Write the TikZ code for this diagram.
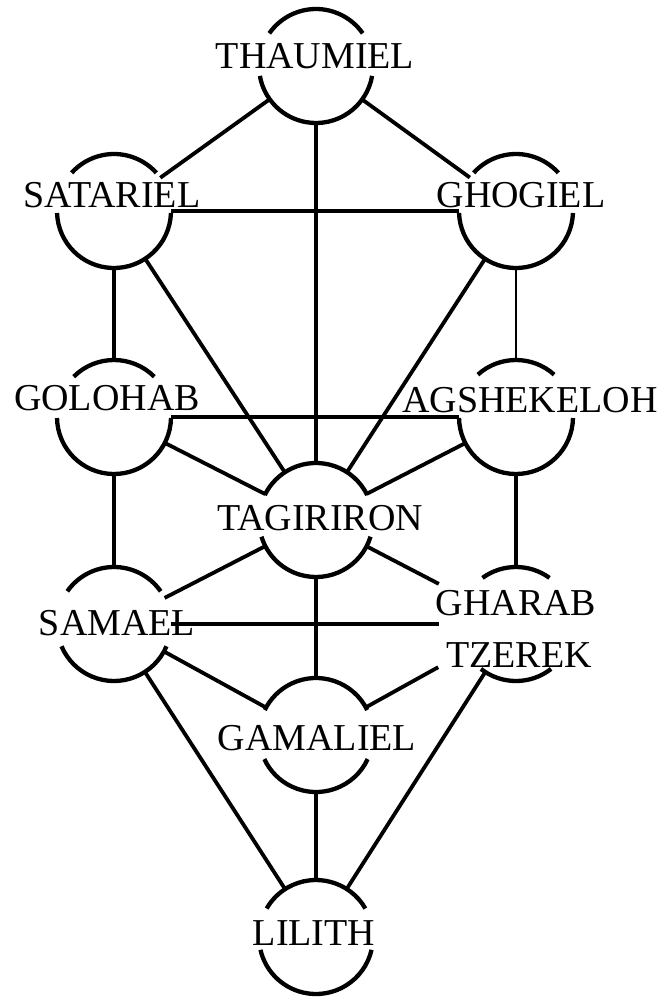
\documentclass[tikz,border=0pt]{standalone}
\usepackage{fontspec}
\setmainfont{Liberation Serif}
\begin{document}
\begin{tikzpicture}[x=1pt,y=1pt,
  sephc/.style={circle, minimum size=114pt, inner sep=0pt, outer sep=0pt},
  arcline/.style={line width=4.3pt},
  conn/.style={line width=3.8pt},
  thinconn/.style={line width=2.4pt},
  lbl/.style={font=\fontsize{38}{40}\selectfont, inner sep=0pt, anchor=base}]
\useasboundingbox (0,0) rectangle (659,-999);
% circles with gaps for the names
\foreach \n/\x/\y/\a/\b in {thaumiel/316/66/35/10, satariel/114/211/42/2, ghogiel/516/211/42/2, golohab/114/417/45/1, agshekeloh/516/417/48/1, tagiriron/316/520/26/17, samael/114/624/35/23, gharab/516/624/54/52, gamaliel/316/735/26/25, lilith/316/937/30/13}{
  \node[sephc] (\n) at (\x,-\y) {};
  \pgfmathsetmacro\ea{180-\a}
  \pgfmathsetmacro\sb{-\b}
  \pgfmathsetmacro\eb{-180+\b}
  \draw[arcline] ([shift={(\a:57)}]\n.center) arc[start angle=\a, end angle=\ea, radius=57];
  \draw[arcline] ([shift={(\sb:57)}]\n.center) arc[start angle=\sb, end angle=\eb, radius=57];
}
% connectors
\draw[conn] (thaumiel) -- (satariel);
\draw[conn] (thaumiel) -- (ghogiel);
\draw[conn] (thaumiel) -- (tagiriron);
\draw[conn] (satariel) -- (ghogiel);
\draw[conn] (satariel) -- (golohab);
\draw[conn] (satariel) -- (tagiriron);
\draw[thinconn] (ghogiel) -- (agshekeloh);
\draw[conn] (ghogiel) -- (tagiriron);
\draw[conn] (golohab) -- (agshekeloh);
\draw[conn] (golohab) -- (tagiriron);
\draw[conn] (golohab) -- (samael);
\draw[conn] (agshekeloh) -- (tagiriron);
\draw[conn] (agshekeloh) -- (gharab);
\draw[conn] (tagiriron) -- (samael);
\draw[conn, shorten >=30pt] (tagiriron) -- (gharab);
\draw[conn] (tagiriron) -- (gamaliel);
\draw[conn, shorten >=20pt] (samael) -- (gharab);
\draw[conn] (samael) -- (gamaliel);
\draw[conn] (samael) -- (lilith);
\draw[conn, shorten >=32pt] (gamaliel) -- (gharab);
\draw[conn] (gharab) -- (lilith);
\draw[conn] (gamaliel) -- (lilith);
% names
\node[lbl] (thaumieltxt) at (315,-68) {THAUMIEL};
\node[lbl] (satarieltxt) at (112,-207) {SATARIEL};
\node[lbl] (ghogieltxt) at (521,-207) {GHOGIEL};
\node[lbl] (golohabtxt) at (107,-410) {GOLOHAB};
\node[lbl] (agshekelohtxt) at (530,-412) {AGSHEKELOH};
\node[lbl] (tagirirontxt) at (320,-530) {TAGIRIRON};
\node[lbl] (samaeltxt) at (117,-635) {SAMAEL};
\node[lbl] (gharabtxt) at (516,-615) {GHARAB};
\node[lbl] (tzerektxt) at (519,-667) {TZEREK};
\node[lbl] (gamalieltxt) at (317,-750) {GAMALIEL};
\node[lbl] (lilithtxt) at (314,-945) {LILITH};
\end{tikzpicture}
\end{document}
